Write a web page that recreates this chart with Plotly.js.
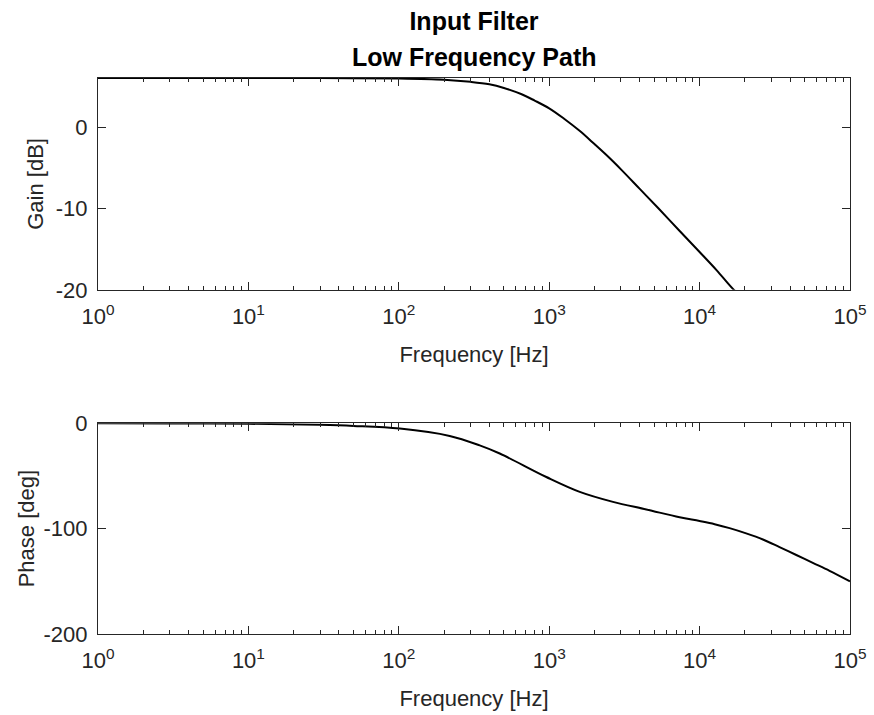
<!DOCTYPE html>
<html>
<head>
<meta charset="utf-8">
<script src="https://cdn.plot.ly/plotly-3.0.1.min.js"></script>
<style>html,body{margin:0;padding:0;background:#fff;}#chart{width:874px;height:715px;}</style>
</head>
<body>
<div id="chart"></div>
<script>
// Gain curve (Hz, dB)
const gainFreq = [1, 10, 30, 100, 200, 300, 400, 500, 650, 800, 1000, 1250, 1600, 2000, 2500, 3000, 4000, 5300, 7400, 10000, 13000, 16600, 20000, 100000];
const gainDb   = [6.02, 6.02, 6.01, 5.96, 5.81, 5.55, 5.25, 4.8, 4.05, 3.25, 2.3, 1.05, -0.5, -2.1, -3.75, -5.2, -7.6, -9.95, -12.8, -15.35, -17.6, -19.85, -21.3, -35.3];

// Phase curve (Hz, deg)
const phaseFreq = [1, 3, 10, 30, 50, 101.6, 218, 345, 469, 957, 1596, 2656, 4425, 7365, 10000, 12590, 15820, 20400, 26360, 34000, 43950, 56600, 73100, 100000];
const phaseDeg  = [-0.05, -0.15, -0.5, -1.5, -2.5, -5, -12, -21, -28.7, -51, -65.1, -74.6, -81.8, -89.2, -92.8, -95.8, -99.5, -104.5, -110.3, -117.5, -125, -132.5, -140, -150];

const xTickVals = [1, 10, 100, 1000, 10000, 100000];
const xTickText = ['10<sup>0</sup>', '10<sup>1</sup>', '10<sup>2</sup>', '10<sup>3</sup>', '10<sup>4</sup>', '10<sup>5</sup>'];
const gainTickVals = [-20, -10, 0];
const gainTickText = ['-20', '-10', '0'];
const phaseTickVals = [-200, -100, 0];
const phaseTickText = ['-200', '-100', '0'];

const titleLine1 = 'Input Filter';
const titleLine2 = 'Low Frequency Path';
const xLabel = 'Frequency [Hz]';
const gainLabel = 'Gain [dB]';
const phaseLabel = 'Phase [deg]';

const axisColor = '#262626';
const fontFam = '"Liberation Sans", Arial, sans-serif';
const FS = 22;
const TFS = 25;

function xAxis(anchor) {
  return {
    type: 'log', range: [0, 5], anchor: anchor,
    tickmode: 'array', tickvals: xTickVals, ticktext: xTickText,
    ticks: 'inside', ticklen: 8, tickwidth: 1, tickcolor: axisColor,
    minor: {ticks: 'inside', ticklen: 4, tickwidth: 1, tickcolor: axisColor, dtick: 'D1', showgrid: false},
    showline: true, linecolor: axisColor, linewidth: 1, mirror: 'allticks',
    showgrid: false, zeroline: false,
    ticklabelstandoff: 7,
    tickfont: {family: fontFam, size: FS, color: axisColor},
    title: {text: xLabel, font: {family: fontFam, size: FS, color: axisColor}, standoff: 18},
    automargin: false
  };
}
function yAxis(anchor, domain, range, tv, tt, label, standoff) {
  return {
    domain: domain, range: range, anchor: anchor,
    tickmode: 'array', tickvals: tv, ticktext: tt,
    ticks: 'inside', ticklen: 8, tickwidth: 1, tickcolor: axisColor,
    showline: true, linecolor: axisColor, linewidth: 1, mirror: 'allticks',
    showgrid: false, zeroline: false,
    ticklabelstandoff: 5,
    tickfont: {family: fontFam, size: FS, color: axisColor},
    title: {text: label, font: {family: fontFam, size: FS, color: axisColor}, standoff: standoff},
    automargin: false
  };
}

const data = [
  {x: gainFreq, y: gainDb, xaxis: 'x', yaxis: 'y', type: 'scatter', mode: 'lines',
   line: {color: '#000', width: 2, shape: 'spline', smoothing: 1}, hoverinfo: 'skip'},
  {x: phaseFreq, y: phaseDeg, xaxis: 'x2', yaxis: 'y2', type: 'scatter', mode: 'lines',
   line: {color: '#000', width: 2, shape: 'spline', smoothing: 1}, hoverinfo: 'skip'}
];

const layout = {
  width: 874, height: 715,
  margin: {l: 98, r: 24, t: 78, b: 81, pad: 0},
  paper_bgcolor: '#fff', plot_bgcolor: '#fff',
  showlegend: false,
  title: {text: titleLine1, font: {family: fontFam, size: TFS, color: '#000', weight: 'bold'},
          x: 0.5, xref: 'paper', xanchor: 'center', y: 1 - 21 / 715, yanchor: 'middle', yref: 'container'},
  annotations: [{
    text: titleLine2, font: {family: fontFam, size: TFS, color: '#000', weight: 'bold'},
    xref: 'paper', yref: 'paper', x: 0.5, xanchor: 'center',
    y: 1 + (78 - 57) / 556, yanchor: 'middle', showarrow: false
  }],
  xaxis: xAxis('y'),
  yaxis: yAxis('x', [0.619, 1], [-20, 6.02], gainTickVals, gainTickText, gainLabel, 6),
  xaxis2: xAxis('y2'),
  yaxis2: yAxis('x2', [0, 0.379], [-200, 0], phaseTickVals, phaseTickText, phaseLabel, 2)
};

Plotly.newPlot('chart', data, layout, {displayModeBar: false, staticPlot: true});
</script>
</body>
</html>
